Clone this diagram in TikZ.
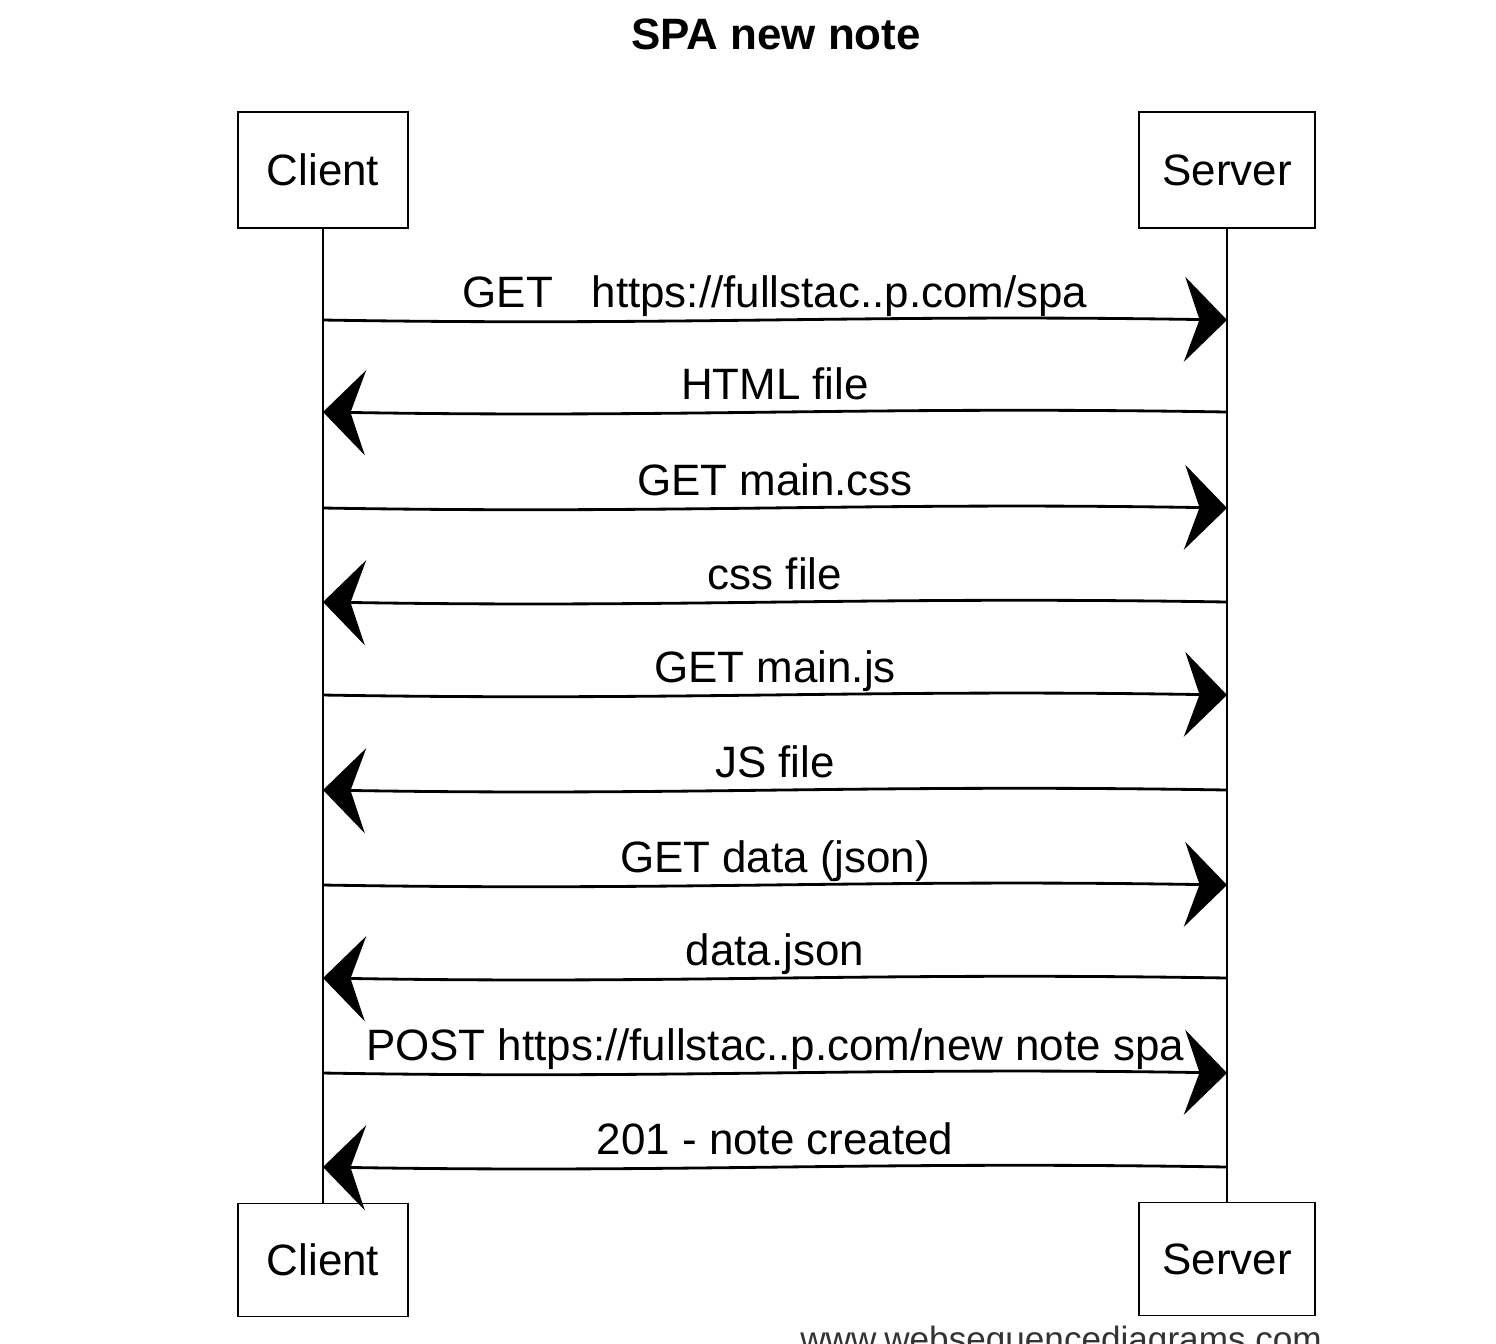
\documentclass[tikz,border=0pt]{standalone}
\usepackage{fontspec}
\setmainfont{Liberation Sans}
\usepackage{tikz}
\usetikzlibrary{calc,arrows.meta}

\begin{document}
\begin{tikzpicture}[x=0.02cm,y=-0.02cm,
    actor/.style={draw, line width=1pt, minimum width=3.4cm, minimum height=2.32cm, font=\fontsize{25}{30}\selectfont},
    life/.style={line width=0.8pt},
    msg/.style={line width=1.6pt},
    req/.style={-{Stealth[length=0.85cm,width=1.7cm,inset=0.3cm]}},
    resp/.style={{Stealth[length=0.85cm,width=1.7cm,inset=0.3cm]}-},
    lbl/.style={font=\fontsize{25}{30}\selectfont, anchor=base, yshift=0.26cm, inner sep=0pt}]
		\useasboundingbox (0,0) rectangle (1496,1343);
		\node[font=\bfseries\fontsize{25}{30}\selectfont] (title) at (776,34) {SPA new note};
		% % actors, top and bottom
		\node[actor] (clienttop) at (323,170) {Client};
		\node[actor, minimum width=3.52cm] (servertop) at (1227,170) {Server};
		\node[actor, minimum height=2.26cm] (clientbot) at (323,1260) {Client};
		\node[actor, minimum width=3.52cm, minimum height=2.26cm] (serverbot) at (1227,1259) {Server};
		% lifelines
		\draw[life] (clienttop) -- (clientbot);
		\draw[life] (servertop) -- (serverbot);
		% messages
		\foreach \y/\dir/\txt [count=\i] in {320/req/{GET\hspace{0.6em} https://fullstac..p.com/spa},
		    412/resp/{HTML file},
		    508/req/{GET main.css},
		    602/resp/{css file},
		    695/req/{GET main.js},
		    790/resp/{JS file},
		    885/req/{GET data (json)},
		    978/resp/{data.json},
		    1073/req/{POST https://fullstac..p.com/new note spa},
		    1167/resp/{201 - note created}}{
		  \coordinate (c\i) at (clienttop.south |- 0,\y);
		  \coordinate (s\i) at (servertop.south |- 0,\y);
		  \draw[msg,\dir] (c\i) .. controls ($(c\i)!0.4!(s\i)+(0,6)$) and ($(c\i)!0.6!(s\i)+(0,-6)$) .. (s\i)
		      node[lbl, pos=0.5] (m\i) {\txt};
		}
		%\node (footer) at (1065,1335) {};
		\node[anchor=base west, font=\fontsize{20}{24}\selectfont, text=black!80, inner sep=0pt] (footer) at (800,1351) {www.websequencediagrams.com};
\end{tikzpicture}
\end{document}
